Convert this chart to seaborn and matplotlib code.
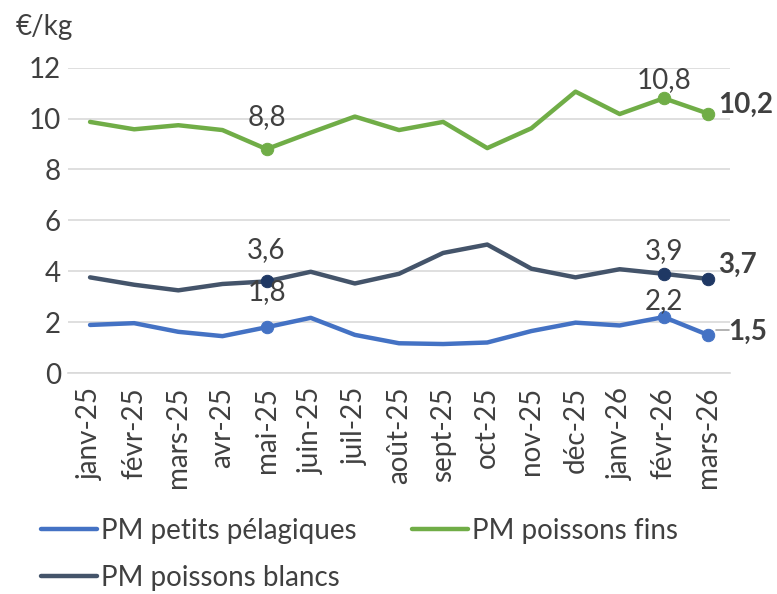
import matplotlib
matplotlib.use("Agg")
import matplotlib.pyplot as plt
import seaborn as sns
import pandas as pd
import numpy as np
from matplotlib.lines import Line2D

months = ["janv-25", "févr-25", "mars-25", "avr-25", "mai-25", "juin-25", "juil-25",
          "août-25", "sept-25", "oct-25", "nov-25", "déc-25", "janv-26", "févr-26", "mars-26"]

pelagiques = [1.89, 1.96, 1.62, 1.45, 1.8, 2.17, 1.5, 1.17, 1.14, 1.2, 1.65, 1.98, 1.87, 2.2, 1.5]
fins = [9.87, 9.58, 9.74, 9.55, 8.8, 9.45, 10.08, 9.55, 9.87, 8.84, 9.62, 11.06, 10.18, 10.8, 10.2]
blancs = [3.76, 3.47, 3.25, 3.5, 3.6, 3.98, 3.52, 3.9, 4.72, 5.05, 4.1, 3.76, 4.08, 3.9, 3.7]

series_names = ["PM petits pélagiques", "PM poissons fins", "PM poissons blancs"]
series_values = [pelagiques, fins, blancs]
colors = {"PM petits pélagiques": "#4472C4",
          "PM poissons fins": "#70AD47",
          "PM poissons blancs": "#44546A"}
marker_colors = {"PM petits pélagiques": "#4472C4",
                 "PM poissons fins": "#70AD47",
                 "PM poissons blancs": "#1F3864"}
# label offsets (pixels above the point) for mai-25 and févr-26
label_offsets = {"PM petits pélagiques": [35, 16],
                 "PM poissons fins": [32, 18],
                 "PM poissons blancs": [31, 23]}
end_offsets = {"PM petits pélagiques": (20, 3),
               "PM poissons fins": (10, 9),
               "PM poissons blancs": (10, 14)}

# long format for seaborn
rows = []
for name, vals in zip(series_names, series_values):
    for i, v in enumerate(vals):
        rows.append({"idx": i, "mois": months[i], "serie": name, "prix": v})
df = pd.DataFrame(rows)

sns.set_style("white")
plt.rcParams["font.family"] = ["Lato", "DejaVu Sans"]
txt_color = "#404040"
fs = 20

fig = plt.figure(figsize=(7.77, 5.94), dpi=100)
ax = fig.add_axes([0.0875, 0.372, 0.852, 0.514])

for name in series_names:
    sub = df[df["serie"] == name]
    sns.lineplot(data=sub, x="idx", y="prix", color=colors[name], linewidth=3.2,
                 ax=ax, legend=False, zorder=3)

# highlighted points: mai-25, févr-26, mars-26
hl = [4, 13, 14]
for name in series_names:
    sub = df[(df["serie"] == name) & (df["idx"].isin(hl))]
    sns.scatterplot(data=sub, x="idx", y="prix", color=marker_colors[name], s=80,
                    edgecolor=marker_colors[name], ax=ax, legend=False, zorder=4)

for name, vals in zip(series_names, series_values):
    for k, i in enumerate([4, 13]):
        ax.annotate(f"{vals[i]:.1f}".replace(".", ","), (i, vals[i]),
                    xytext=(0, label_offsets[name][k]), textcoords="offset pixels",
                    ha="center", va="center", fontsize=fs, color=txt_color, zorder=5)
    dx, dy = end_offsets[name]
    ax.annotate(f"{vals[14]:.1f}".replace(".", ","), (14, vals[14]), xytext=(dx, dy),
                textcoords="offset pixels", ha="left", va="center",
                fontsize=fs, fontweight="bold", color=txt_color, zorder=5,
                annotation_clip=False)

# leader line for 1,5
ax.plot([14.18, 14.48], [pelagiques[14] + 0.18, pelagiques[14] + 0.18],
        color="#A6A6A6", linewidth=1.2, clip_on=False)

ax.set_xlim(-0.5, len(months) - 0.5)
ax.set_ylim(0, 12)
ax.set_yticks([0, 2, 4, 6, 8, 10, 12])
ax.set_xticks(range(len(months)))
ax.set_xticklabels(months, rotation=90, fontsize=fs, color=txt_color)
ax.set_xticks(np.arange(-0.5, len(months)), minor=True)
ax.tick_params(axis="x", which="major", length=0, pad=10)
ax.tick_params(axis="x", which="minor", length=10, color="#D9D9D9", width=1.2)
ax.tick_params(axis="y", length=0, labelsize=fs, labelcolor=txt_color, pad=5)
ax.grid(axis="y", color="#D9D9D9", linewidth=1.2)
ax.set_axisbelow(True)
for s in ["top", "right", "left"]:
    ax.spines[s].set_visible(False)
ax.spines["bottom"].set_color("#D9D9D9")
ax.spines["bottom"].set_linewidth(1.2)
ax.set_xlabel("")
ax.set_ylabel("")

fig.text(0.02, 0.955, "€/kg", fontsize=fs, color=txt_color, ha="left", va="center")

handles = [Line2D([0], [0], color=colors[n], linewidth=3.2) for n in series_names]
order = [0, 2, 1]
leg = fig.legend([handles[i] for i in order], [series_names[i] for i in order],
                 loc="upper left", bbox_to_anchor=(0.053, 0.128), ncol=2, frameon=False,
                 fontsize=fs, handlelength=2.0, handletextpad=0.15,
                 columnspacing=2.0, labelspacing=0.75, borderpad=0, borderaxespad=0)
for t in leg.get_texts():
    t.set_color(txt_color)

fig.savefig("out.png", dpi=100)
